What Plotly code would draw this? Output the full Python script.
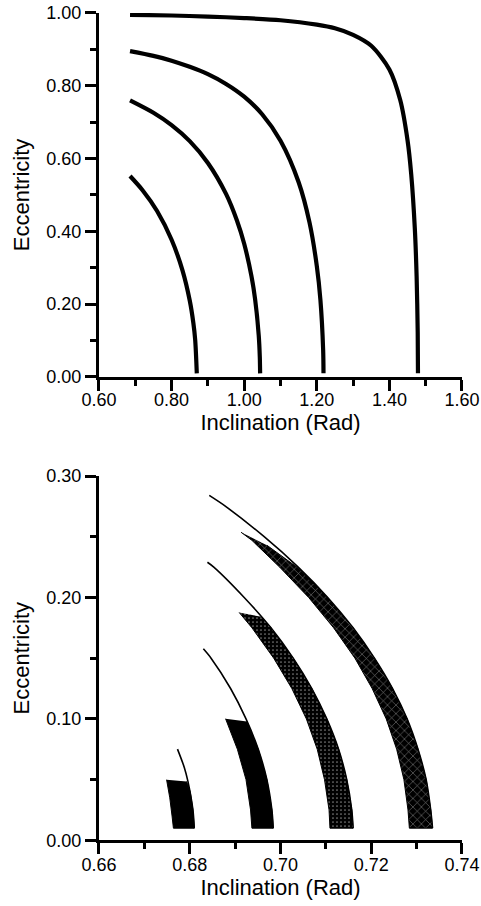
import plotly.graph_objects as go

# ---------------- Top panel: four trajectories ----------------
c1_x = [0.6855, 0.72, 0.76, 0.80, 0.83, 0.85, 0.86, 0.865, 0.8694]
c1_y = [0.552, 0.513, 0.456, 0.377, 0.293, 0.210, 0.148, 0.102, 0.01]

c2_x = [0.6855, 0.75, 0.80, 0.85, 0.90, 0.95, 0.98, 1.00, 1.02, 1.03, 1.04, 1.043, 1.0439]
c2_y = [0.760, 0.726, 0.692, 0.648, 0.588, 0.503, 0.430, 0.366, 0.277, 0.214, 0.115, 0.055, 0.01]

c3_x = [0.6855, 0.75, 0.80, 0.85, 0.90, 0.95, 1.00, 1.05, 1.10, 1.15, 1.18, 1.20, 1.21, 1.2175, 1.2185]
c3_y = [0.895, 0.882, 0.869, 0.852, 0.832, 0.805, 0.770, 0.721, 0.649, 0.535, 0.424, 0.305, 0.211, 0.074, 0.01]

c4_x = [0.6855, 0.80, 0.90, 1.00, 1.10, 1.20, 1.25, 1.30, 1.35, 1.40, 1.43, 1.45, 1.46, 1.47, 1.475, 1.478, 1.4787]
c4_y = [0.995, 0.993, 0.990, 0.986, 0.980, 0.968, 0.958, 0.940, 0.910, 0.845, 0.760, 0.650, 0.558, 0.408, 0.276, 0.122, 0.01]

top_curves = [(c1_x, c1_y), (c2_x, c2_y), (c3_x, c3_y), (c4_x, c4_y)]

# ---------------- Bottom panel: thin lines ----------------
t1_x = [0.6773, 0.6788, 0.6796, 0.6807, 0.6810]
t1_y = [0.0751, 0.060, 0.0485, 0.025, 0.010]
t2_x = [0.6830, 0.6847, 0.6890, 0.6924, 0.6951, 0.6970, 0.6981, 0.6984]
t2_y = [0.1577, 0.150, 0.125, 0.100, 0.075, 0.050, 0.025, 0.010]
t3_x = [0.6839, 0.6853, 0.6920, 0.6979, 0.7028, 0.7069, 0.7102, 0.7128, 0.7146, 0.7157, 0.7160]
t3_y = [0.229, 0.225, 0.200, 0.175, 0.150, 0.125, 0.100, 0.075, 0.050, 0.025, 0.010]
t4_x = [0.6843, 0.6879, 0.6964, 0.7039, 0.7104, 0.7160, 0.7207, 0.7247, 0.7279, 0.7303, 0.7321, 0.7331, 0.7335]
t4_y = [0.284, 0.275, 0.250, 0.225, 0.200, 0.175, 0.150, 0.125, 0.100, 0.075, 0.050, 0.025, 0.010]

# ---------------- Bottom panel: bands (inner edge top->bottom, outer edge bottom->top) ----------------
b1_in_x = [0.6749, 0.6756, 0.6761, 0.6764]
b1_in_y = [0.0499, 0.035, 0.020, 0.010]
b1_out_x = [0.6810, 0.6807, 0.6801, 0.6793]
b1_out_y = [0.010, 0.025, 0.040, 0.0485]

b2_in_x = [0.6879, 0.6905, 0.6924, 0.6934, 0.6937]
b2_in_y = [0.1001, 0.075, 0.050, 0.025, 0.010]
b2_out_x = [0.6984, 0.6981, 0.6970, 0.6951, 0.6926]
b2_out_y = [0.010, 0.025, 0.050, 0.075, 0.0979]

b3_in_x = [0.6909, 0.6937, 0.6985, 0.7025, 0.7057, 0.7081, 0.7097, 0.7107, 0.7109]
b3_in_y = [0.1876, 0.175, 0.150, 0.125, 0.100, 0.075, 0.050, 0.025, 0.010]
b3_out_x = [0.7160, 0.7157, 0.7146, 0.7128, 0.7102, 0.7069, 0.7028, 0.6979, 0.6958]
b3_out_y = [0.010, 0.025, 0.050, 0.075, 0.100, 0.125, 0.150, 0.175, 0.184]

b4_in_x = [0.6913, 0.6937, 0.6998, 0.7062, 0.7117, 0.7164, 0.7202, 0.7233, 0.7256, 0.7272, 0.7281, 0.7284]
b4_in_y = [0.2537, 0.247, 0.225, 0.200, 0.175, 0.150, 0.125, 0.100, 0.075, 0.050, 0.025, 0.010]
b4_out_x = [0.7335, 0.7331, 0.7321, 0.7303, 0.7279, 0.7247, 0.7207, 0.7160, 0.7104, 0.7036, 0.6970]
b4_out_y = [0.010, 0.025, 0.050, 0.075, 0.100, 0.125, 0.150, 0.175, 0.200, 0.225, 0.243]

FONT = "Liberation Sans, Arial, Helvetica, sans-serif"

fig = go.Figure()

for cx, cy in top_curves:
    fig.add_trace(go.Scatter(x=cx, y=cy, mode="lines", xaxis="x", yaxis="y",
                             line=dict(color="black", width=4.2, shape="spline", smoothing=0.8),
                             showlegend=False, hoverinfo="skip"))

for tx, ty in [(t1_x, t1_y), (t2_x, t2_y), (t3_x, t3_y), (t4_x, t4_y)]:
    fig.add_trace(go.Scatter(x=tx, y=ty, mode="lines", xaxis="x2", yaxis="y2",
                             line=dict(color="black", width=1.6, shape="spline", smoothing=0.8),
                             showlegend=False, hoverinfo="skip"))

bands = [
    (b1_in_x, b1_in_y, b1_out_x, b1_out_y, None),
    (b2_in_x, b2_in_y, b2_out_x, b2_out_y, None),
    (b3_in_x, b3_in_y, b3_out_x, b3_out_y, dict(shape=".", fgcolor="white", bgcolor="black", size=4, solidity=0.15)),
    (b4_in_x, b4_in_y, b4_out_x, b4_out_y, dict(shape="x", fgcolor="white", bgcolor="black", size=6, solidity=0.18)),
]
for ix, iy, ox, oy, pat in bands:
    kw = dict(x=ix + ox, y=iy + oy, mode="lines", fill="toself", xaxis="x2", yaxis="y2",
              line=dict(color="black", width=1), fillcolor="black",
              showlegend=False, hoverinfo="skip")
    if pat is not None:
        kw["fillpattern"] = pat
    fig.add_trace(go.Scatter(**kw))

axis_common = dict(
    automargin=False,
    showline=True, linecolor="black", linewidth=3, mirror=False,
    ticks="outside", ticklen=11, tickwidth=3, tickcolor="black",
    showgrid=False, zeroline=False,
    tickfont=dict(family=FONT, size=18, color="black"),
    title_font=dict(family=FONT, size=22, color="black"),
)
minor_common = dict(ticklen=6, tickwidth=3, tickcolor="black", ticks="outside")

fig.update_layout(
    width=481, height=906,
    margin=dict(l=0, r=0, t=0, b=0, autoexpand=False),
    paper_bgcolor="white", plot_bgcolor="white",
    showlegend=False,
    xaxis=dict(domain=[0.2058, 0.9605], anchor="y", range=[0.6, 1.6],
               tickvals=[0.6, 0.8, 1.0, 1.2, 1.4, 1.6], tickformat=".2f", ticklabelstandoff=-7,
               minor=dict(tickvals=[0.7, 0.9, 1.1, 1.3, 1.5], **minor_common),
               title=dict(text="Inclination (Rad)", standoff=0), **axis_common),
    yaxis=dict(domain=[0.5839, 0.9857], anchor="x", range=[0, 1.0],
               tickvals=[0, 0.2, 0.4, 0.6, 0.8, 1.0], tickformat=".2f",
               minor=dict(tickvals=[0.1, 0.3, 0.5, 0.7, 0.9], **minor_common),
               title=dict(text="Eccentricity", standoff=11), **axis_common),
    xaxis2=dict(domain=[0.2058, 0.9605], anchor="y2", range=[0.66, 0.74],
                tickvals=[0.66, 0.68, 0.70, 0.72, 0.74], tickformat=".2f", ticklabelstandoff=-5,
                minor=dict(tickvals=[0.67, 0.69, 0.71, 0.73], **minor_common),
                title=dict(text="Inclination (Rad)", standoff=0), **axis_common),
    yaxis2=dict(domain=[0.0725, 0.4746], anchor="x2", range=[0, 0.30],
                tickvals=[0, 0.1, 0.2, 0.3], tickformat=".2f",
                minor=dict(tickvals=[0.05, 0.15, 0.25], **minor_common),
                title=dict(text="Eccentricity", standoff=11), **axis_common),
)

fig.write_html("out.html")
